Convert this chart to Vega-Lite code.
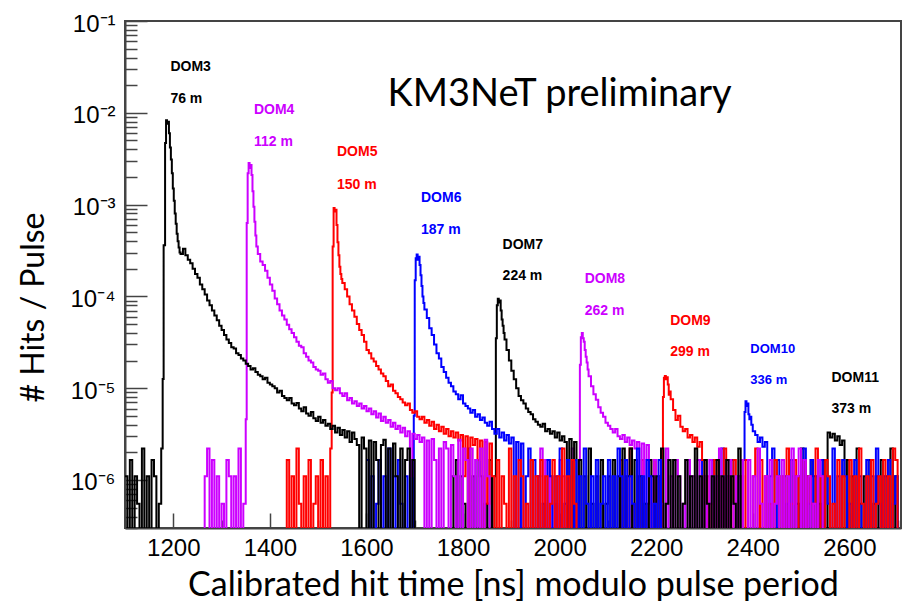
{
"$schema": "https://vega.github.io/schema/vega-lite/v6.json",
"width": 776, "height": 507,
"autosize": {"type": "none"},
"padding": {"left": 125, "top": 21, "right": 9, "bottom": 73},
"background": "white",
"config": {
 "view": {"stroke": "#444", "strokeWidth": 2},
 "axis": {"grid": false, "domainColor": "#444", "domainWidth": 2, "tickColor": "#444", "tickWidth": 1.5,
  "labelFont": "Liberation Sans", "labelFontSize": 24, "labelColor": "black",
  "titleFont": "Lato", "titleFontSize": 32, "titleFontWeight": "normal", "titleColor": "black"}
},
"datasets": {
"hist": [
{"d":11,"t":2465,"v":1.1e-6},{"d":11,"t":2470,"v":1e-8},{"d":11,"t":2475,"v":1.65e-6},{"d":11,"t":2480,"v":1e-8},{"d":11,"t":2485,"v":1.1e-6},{"d":11,"t":2490,"v":5.5e-7},{"d":11,"t":2495,"v":1e-8},{"d":11,"t":2500,"v":2.2e-6},{"d":11,"t":2505,"v":1e-8},{"d":11,"t":2510,"v":1.1e-6},{"d":11,"t":2515,"v":1e-8},{"d":11,"t":2520,"v":1.65e-6},{"d":11,"t":2525,"v":1.1e-6},{"d":11,"t":2530,"v":1e-8},{"d":11,"t":2535,"v":5.5e-7},{"d":11,"t":2540,"v":1e-8},{"d":11,"t":2545,"v":1.65e-6},{"d":11,"t":2550,"v":1e-8},
{"d":11,"t":2555,"v":3.3e-6},{"d":11,"t":2560,"v":2.9e-6},{"d":11,"t":2565,"v":3.2e-6},{"d":11,"t":2570,"v":2.7e-6},{"d":11,"t":2575,"v":3.0e-6},{"d":11,"t":2580,"v":2.4e-6},{"d":11,"t":2585,"v":2.7e-6},
{"d":11,"t":2590,"v":1e-8},{"d":11,"t":2595,"v":1.65e-6},{"d":11,"t":2600,"v":1e-8},{"d":11,"t":2605,"v":1.1e-6},{"d":11,"t":2610,"v":1e-8},{"d":11,"t":2615,"v":2.2e-6},{"d":11,"t":2620,"v":5.5e-7},{"d":11,"t":2625,"v":1e-8},{"d":11,"t":2630,"v":1.1e-6},{"d":11,"t":2635,"v":1e-8},{"d":11,"t":2640,"v":1.65e-6},{"d":11,"t":2645,"v":1e-8},{"d":11,"t":2650,"v":5.5e-7},{"d":11,"t":2655,"v":1.1e-6},{"d":11,"t":2660,"v":1e-8},{"d":11,"t":2665,"v":1.65e-6},{"d":11,"t":2670,"v":1e-8},{"d":11,"t":2675,"v":1.1e-6},{"d":11,"t":2680,"v":1e-8},{"d":11,"t":2685,"v":2.2e-6},{"d":11,"t":2690,"v":1e-8},{"d":11,"t":2695,"v":1.1e-6},{"d":11,"t":2700,"v":1e-8},{"d":11,"t":2710,"v":1e-8},

{"d":10,"t":2290,"v":1.65e-6},{"d":10,"t":2295,"v":1e-8},{"d":10,"t":2300,"v":1.1e-6},{"d":10,"t":2305,"v":1e-8},{"d":10,"t":2310,"v":5.5e-7},{"d":10,"t":2315,"v":1.65e-6},{"d":10,"t":2320,"v":1e-8},{"d":10,"t":2325,"v":1.1e-6},{"d":10,"t":2330,"v":1e-8},{"d":10,"t":2335,"v":2.2e-6},{"d":10,"t":2340,"v":1e-8},{"d":10,"t":2345,"v":1.1e-6},{"d":10,"t":2350,"v":1e-8},{"d":10,"t":2355,"v":1.65e-6},{"d":10,"t":2360,"v":5.5e-7},{"d":10,"t":2365,"v":1e-8},{"d":10,"t":2370,"v":1.1e-6},{"d":10,"t":2375,"v":1e-8},{"d":10,"t":2380,"v":1.65e-6},
{"d":10,"t":2383,"v":5.5e-6},{"d":10,"t":2385,"v":7.2e-6},{"d":10,"t":2387,"v":6.4e-6},{"d":10,"t":2389,"v":6.8e-6},{"d":10,"t":2391,"v":5.2e-6},{"d":10,"t":2393,"v":4.6e-6},{"d":10,"t":2395,"v":4.9e-6},{"d":10,"t":2397,"v":4.0e-6},{"d":10,"t":2400,"v":3.4e-6},{"d":10,"t":2405,"v":3.1e-6},{"d":10,"t":2410,"v":2.6e-6},{"d":10,"t":2415,"v":2.9e-6},{"d":10,"t":2420,"v":2.3e-6},{"d":10,"t":2425,"v":2.6e-6},
{"d":10,"t":2430,"v":1e-8},{"d":10,"t":2435,"v":1.1e-6},{"d":10,"t":2440,"v":2.2e-6},{"d":10,"t":2445,"v":1e-8},{"d":10,"t":2450,"v":1.65e-6},{"d":10,"t":2455,"v":1e-8},{"d":10,"t":2460,"v":1.1e-6},{"d":10,"t":2465,"v":1e-8},{"d":10,"t":2470,"v":5.5e-7},{"d":10,"t":2475,"v":1e-8},{"d":10,"t":2480,"v":1.65e-6},{"d":10,"t":2485,"v":1.1e-6},{"d":10,"t":2490,"v":1e-8},{"d":10,"t":2495,"v":1.1e-6},{"d":10,"t":2500,"v":1e-8},{"d":10,"t":2505,"v":2.2e-6},{"d":10,"t":2510,"v":1e-8},{"d":10,"t":2515,"v":5.5e-7},{"d":10,"t":2520,"v":1.65e-6},{"d":10,"t":2525,"v":1e-8},
{"d":10,"t":2530,"v":1.1e-6},{"d":10,"t":2535,"v":1e-8},{"d":10,"t":2540,"v":1.65e-6},{"d":10,"t":2545,"v":1e-8},{"d":10,"t":2550,"v":1.1e-6},{"d":10,"t":2555,"v":5.5e-7},{"d":10,"t":2560,"v":1e-8},{"d":10,"t":2565,"v":2.2e-6},{"d":10,"t":2570,"v":1e-8},{"d":10,"t":2575,"v":1.1e-6},{"d":10,"t":2580,"v":1e-8},{"d":10,"t":2585,"v":1.65e-6},{"d":10,"t":2590,"v":1.1e-6},{"d":10,"t":2595,"v":1e-8},{"d":10,"t":2600,"v":5.5e-7},{"d":10,"t":2605,"v":1e-8},{"d":10,"t":2610,"v":1.65e-6},{"d":10,"t":2615,"v":1e-8},{"d":10,"t":2620,"v":1.1e-6},{"d":10,"t":2625,"v":1e-8},
{"d":10,"t":2630,"v":1e-8},{"d":10,"t":2635,"v":1.65e-6},{"d":10,"t":2640,"v":1e-8},{"d":10,"t":2645,"v":1.1e-6},{"d":10,"t":2650,"v":1e-8},{"d":10,"t":2655,"v":2.2e-6},{"d":10,"t":2660,"v":5.5e-7},{"d":10,"t":2665,"v":1e-8},{"d":10,"t":2670,"v":1.1e-6},{"d":10,"t":2675,"v":1e-8},{"d":10,"t":2680,"v":1.65e-6},{"d":10,"t":2685,"v":1e-8},{"d":10,"t":2690,"v":5.5e-7},{"d":10,"t":2695,"v":1.1e-6},{"d":10,"t":2700,"v":1e-8},{"d":10,"t":2710,"v":1e-8},

{"d":9,"t":2120,"v":1e-8},{"d":9,"t":2125,"v":1.65e-6},{"d":9,"t":2130,"v":1e-8},{"d":9,"t":2135,"v":1.1e-6},{"d":9,"t":2140,"v":1e-8},{"d":9,"t":2145,"v":2.2e-6},{"d":9,"t":2150,"v":5.5e-7},{"d":9,"t":2155,"v":1e-8},{"d":9,"t":2160,"v":1.1e-6},{"d":9,"t":2165,"v":1e-8},{"d":9,"t":2170,"v":1.65e-6},{"d":9,"t":2175,"v":1e-8},{"d":9,"t":2180,"v":5.5e-7},{"d":9,"t":2185,"v":1.1e-6},{"d":9,"t":2190,"v":1e-8},{"d":9,"t":2195,"v":1.65e-6},{"d":9,"t":2200,"v":1e-8},{"d":9,"t":2205,"v":1.1e-6},{"d":9,"t":2210,"v":1e-8},
{"d":9,"t":2214,"v":8e-6},{"d":9,"t":2216,"v":1.3e-5},{"d":9,"t":2218,"v":1.36e-5},{"d":9,"t":2220,"v":1.25e-5},{"d":9,"t":2222,"v":1.32e-5},{"d":9,"t":2224,"v":1.1e-5},{"d":9,"t":2226,"v":8.5e-6},{"d":9,"t":2228,"v":9.2e-6},{"d":9,"t":2230,"v":7.6e-6},{"d":9,"t":2235,"v":5.8e-6},{"d":9,"t":2240,"v":4.5e-6},{"d":9,"t":2245,"v":5.0e-6},{"d":9,"t":2250,"v":3.8e-6},{"d":9,"t":2255,"v":3.4e-6},{"d":9,"t":2260,"v":3.6e-6},{"d":9,"t":2265,"v":2.9e-6},{"d":9,"t":2270,"v":3.1e-6},{"d":9,"t":2275,"v":2.6e-6},{"d":9,"t":2280,"v":2.9e-6},{"d":9,"t":2285,"v":2.3e-6},{"d":9,"t":2290,"v":2.6e-6},
{"d":9,"t":2295,"v":1.65e-6},{"d":9,"t":2300,"v":1e-8},{"d":9,"t":2305,"v":1.1e-6},{"d":9,"t":2310,"v":1e-8},{"d":9,"t":2315,"v":5.5e-7},{"d":9,"t":2320,"v":1.65e-6},{"d":9,"t":2325,"v":1e-8},{"d":9,"t":2330,"v":1.1e-6},{"d":9,"t":2335,"v":1e-8},{"d":9,"t":2340,"v":2.2e-6},{"d":9,"t":2345,"v":1e-8},{"d":9,"t":2350,"v":1.1e-6},{"d":9,"t":2355,"v":1e-8},{"d":9,"t":2360,"v":1.65e-6},{"d":9,"t":2365,"v":5.5e-7},{"d":9,"t":2370,"v":1e-8},{"d":9,"t":2375,"v":1.1e-6},{"d":9,"t":2380,"v":1e-8},{"d":9,"t":2385,"v":1.65e-6},{"d":9,"t":2390,"v":1e-8},
{"d":9,"t":2395,"v":1e-8},{"d":9,"t":2400,"v":1.1e-6},{"d":9,"t":2405,"v":2.2e-6},{"d":9,"t":2410,"v":1e-8},{"d":9,"t":2415,"v":1.65e-6},{"d":9,"t":2420,"v":1e-8},{"d":9,"t":2425,"v":1.1e-6},{"d":9,"t":2430,"v":1e-8},{"d":9,"t":2435,"v":5.5e-7},{"d":9,"t":2440,"v":1e-8},{"d":9,"t":2445,"v":1.65e-6},{"d":9,"t":2450,"v":1.1e-6},{"d":9,"t":2455,"v":1e-8},{"d":9,"t":2460,"v":1.1e-6},{"d":9,"t":2465,"v":1e-8},{"d":9,"t":2470,"v":2.2e-6},{"d":9,"t":2475,"v":1e-8},{"d":9,"t":2480,"v":5.5e-7},{"d":9,"t":2485,"v":1.65e-6},{"d":9,"t":2490,"v":1e-8},
{"d":9,"t":2495,"v":1.1e-6},{"d":9,"t":2500,"v":1e-8},{"d":9,"t":2505,"v":1.65e-6},{"d":9,"t":2510,"v":1e-8},{"d":9,"t":2515,"v":1.1e-6},{"d":9,"t":2520,"v":5.5e-7},{"d":9,"t":2525,"v":1e-8},{"d":9,"t":2530,"v":2.2e-6},{"d":9,"t":2535,"v":1e-8},{"d":9,"t":2540,"v":1.1e-6},{"d":9,"t":2545,"v":1e-8},{"d":9,"t":2550,"v":1.65e-6},{"d":9,"t":2555,"v":1.1e-6},{"d":9,"t":2560,"v":1e-8},{"d":9,"t":2565,"v":5.5e-7},{"d":9,"t":2570,"v":1e-8},{"d":9,"t":2575,"v":1.65e-6},{"d":9,"t":2580,"v":1e-8},{"d":9,"t":2585,"v":1.1e-6},{"d":9,"t":2590,"v":1e-8},
{"d":9,"t":2595,"v":1e-8},{"d":9,"t":2600,"v":1.65e-6},{"d":9,"t":2605,"v":1e-8},{"d":9,"t":2610,"v":1.1e-6},{"d":9,"t":2615,"v":1e-8},{"d":9,"t":2620,"v":2.2e-6},{"d":9,"t":2625,"v":5.5e-7},{"d":9,"t":2630,"v":1e-8},{"d":9,"t":2635,"v":1.1e-6},{"d":9,"t":2640,"v":1e-8},{"d":9,"t":2645,"v":1.65e-6},{"d":9,"t":2650,"v":1e-8},{"d":9,"t":2655,"v":5.5e-7},{"d":9,"t":2660,"v":1.1e-6},{"d":9,"t":2665,"v":1e-8},{"d":9,"t":2670,"v":1.65e-6},{"d":9,"t":2675,"v":1e-8},{"d":9,"t":2680,"v":1.1e-6},{"d":9,"t":2685,"v":1e-8},{"d":9,"t":2690,"v":2.2e-6},
{"d":9,"t":2695,"v":1.65e-6},{"d":9,"t":2700,"v":1e-8},{"d":9,"t":2710,"v":1e-8},

{"d":8,"t":1950,"v":1e-8},{"d":8,"t":1955,"v":1.1e-6},{"d":8,"t":1960,"v":2.2e-6},{"d":8,"t":1965,"v":1e-8},{"d":8,"t":1970,"v":1.65e-6},{"d":8,"t":1975,"v":1e-8},{"d":8,"t":1980,"v":1.1e-6},{"d":8,"t":1985,"v":1e-8},{"d":8,"t":1990,"v":5.5e-7},{"d":8,"t":1995,"v":1e-8},{"d":8,"t":2000,"v":1.65e-6},{"d":8,"t":2005,"v":1.1e-6},{"d":8,"t":2010,"v":1e-8},{"d":8,"t":2015,"v":1.1e-6},{"d":8,"t":2020,"v":1e-8},{"d":8,"t":2025,"v":2.2e-6},{"d":8,"t":2030,"v":1e-8},{"d":8,"t":2035,"v":5.5e-7},{"d":8,"t":2040,"v":1.65e-6},
{"d":8,"t":2042,"v":1.8e-5},{"d":8,"t":2044,"v":3.6e-5},{"d":8,"t":2046,"v":4.0e-5},{"d":8,"t":2048,"v":3.5e-5},{"d":8,"t":2050,"v":3.2e-5},{"d":8,"t":2052,"v":2.6e-5},{"d":8,"t":2054,"v":2.2e-5},{"d":8,"t":2056,"v":1.9e-5},{"d":8,"t":2058,"v":1.6e-5},{"d":8,"t":2060,"v":1.35e-5},{"d":8,"t":2065,"v":1.05e-5},{"d":8,"t":2070,"v":8.6e-6},{"d":8,"t":2075,"v":7.5e-6},{"d":8,"t":2080,"v":6.2e-6},{"d":8,"t":2085,"v":5.4e-6},{"d":8,"t":2090,"v":4.9e-6},{"d":8,"t":2095,"v":4.2e-6},{"d":8,"t":2100,"v":3.9e-6},{"d":8,"t":2105,"v":3.6e-6},{"d":8,"t":2110,"v":3.3e-6},{"d":8,"t":2115,"v":3.6e-6},{"d":8,"t":2120,"v":3.0e-6},{"d":8,"t":2125,"v":2.8e-6},{"d":8,"t":2130,"v":3.1e-6},{"d":8,"t":2135,"v":2.6e-6},{"d":8,"t":2140,"v":2.9e-6},{"d":8,"t":2145,"v":2.4e-6},{"d":8,"t":2150,"v":2.7e-6},{"d":8,"t":2155,"v":2.2e-6},{"d":8,"t":2160,"v":2.6e-6},{"d":8,"t":2165,"v":1e-8},{"d":8,"t":2170,"v":2.5e-6},{"d":8,"t":2175,"v":1e-8},{"d":8,"t":2180,"v":2.4e-6},
{"d":8,"t":2185,"v":1.1e-6},{"d":8,"t":2190,"v":1e-8},{"d":8,"t":2195,"v":1.65e-6},{"d":8,"t":2200,"v":1e-8},{"d":8,"t":2205,"v":1.1e-6},{"d":8,"t":2210,"v":5.5e-7},{"d":8,"t":2215,"v":1e-8},{"d":8,"t":2220,"v":2.2e-6},{"d":8,"t":2225,"v":1e-8},{"d":8,"t":2230,"v":1.1e-6},{"d":8,"t":2235,"v":1e-8},{"d":8,"t":2240,"v":1.65e-6},{"d":8,"t":2245,"v":1.1e-6},{"d":8,"t":2250,"v":1e-8},{"d":8,"t":2255,"v":5.5e-7},{"d":8,"t":2260,"v":1e-8},{"d":8,"t":2265,"v":1.65e-6},{"d":8,"t":2270,"v":1e-8},{"d":8,"t":2275,"v":1.1e-6},{"d":8,"t":2280,"v":1e-8},
{"d":8,"t":2285,"v":1.65e-6},{"d":8,"t":2290,"v":1e-8},{"d":8,"t":2295,"v":1.1e-6},{"d":8,"t":2300,"v":1e-8},{"d":8,"t":2305,"v":5.5e-7},{"d":8,"t":2310,"v":1.65e-6},{"d":8,"t":2315,"v":1e-8},{"d":8,"t":2320,"v":1.1e-6},{"d":8,"t":2325,"v":1e-8},{"d":8,"t":2330,"v":2.2e-6},{"d":8,"t":2335,"v":1e-8},{"d":8,"t":2340,"v":1.1e-6},{"d":8,"t":2345,"v":1e-8},{"d":8,"t":2350,"v":1.65e-6},{"d":8,"t":2355,"v":5.5e-7},{"d":8,"t":2360,"v":1e-8},{"d":8,"t":2365,"v":1.1e-6},{"d":8,"t":2370,"v":1e-8},{"d":8,"t":2375,"v":1.65e-6},{"d":8,"t":2380,"v":1e-8},
{"d":8,"t":2385,"v":1e-8},{"d":8,"t":2390,"v":1.65e-6},{"d":8,"t":2395,"v":1e-8},{"d":8,"t":2400,"v":1.1e-6},{"d":8,"t":2405,"v":1e-8},{"d":8,"t":2410,"v":2.2e-6},{"d":8,"t":2415,"v":5.5e-7},{"d":8,"t":2420,"v":1e-8},{"d":8,"t":2425,"v":1.1e-6},{"d":8,"t":2430,"v":1e-8},{"d":8,"t":2435,"v":1.65e-6},{"d":8,"t":2440,"v":1e-8},{"d":8,"t":2445,"v":5.5e-7},{"d":8,"t":2450,"v":1.1e-6},{"d":8,"t":2455,"v":1e-8},{"d":8,"t":2460,"v":1.65e-6},{"d":8,"t":2465,"v":1e-8},{"d":8,"t":2470,"v":1.1e-6},{"d":8,"t":2475,"v":1e-8},{"d":8,"t":2480,"v":2.2e-6},
{"d":8,"t":2485,"v":1e-8},{"d":8,"t":2490,"v":1.1e-6},{"d":8,"t":2495,"v":2.2e-6},{"d":8,"t":2500,"v":1e-8},{"d":8,"t":2505,"v":1.65e-6},{"d":8,"t":2510,"v":1e-8},{"d":8,"t":2515,"v":1.1e-6},{"d":8,"t":2520,"v":1e-8},{"d":8,"t":2525,"v":5.5e-7},{"d":8,"t":2530,"v":1e-8},{"d":8,"t":2535,"v":1.65e-6},{"d":8,"t":2540,"v":1.1e-6},{"d":8,"t":2545,"v":1e-8},{"d":8,"t":2550,"v":1e-8},

{"d":7,"t":1775,"v":1.1e-6},{"d":7,"t":1780,"v":1e-8},{"d":7,"t":1785,"v":1.65e-6},{"d":7,"t":1790,"v":1e-8},{"d":7,"t":1795,"v":1.1e-6},{"d":7,"t":1800,"v":5.5e-7},{"d":7,"t":1805,"v":1e-8},{"d":7,"t":1810,"v":2.2e-6},{"d":7,"t":1815,"v":1e-8},{"d":7,"t":1820,"v":1.1e-6},{"d":7,"t":1825,"v":1e-8},{"d":7,"t":1830,"v":1.65e-6},{"d":7,"t":1835,"v":1.1e-6},{"d":7,"t":1840,"v":1e-8},{"d":7,"t":1845,"v":5.5e-7},{"d":7,"t":1850,"v":1e-8},{"d":7,"t":1855,"v":1.65e-6},{"d":7,"t":1860,"v":1e-8},{"d":7,"t":1865,"v":1.1e-6},
{"d":7,"t":1868,"v":3.5e-5},{"d":7,"t":1870,"v":8.0e-5},{"d":7,"t":1872,"v":9.4e-5},{"d":7,"t":1874,"v":8.6e-5},{"d":7,"t":1876,"v":9.0e-5},{"d":7,"t":1878,"v":7.0e-5},{"d":7,"t":1880,"v":5.6e-5},{"d":7,"t":1882,"v":4.8e-5},{"d":7,"t":1884,"v":4.0e-5},{"d":7,"t":1886,"v":3.4e-5},{"d":7,"t":1890,"v":2.6e-5},{"d":7,"t":1895,"v":2.0e-5},{"d":7,"t":1900,"v":1.55e-5},{"d":7,"t":1905,"v":1.25e-5},{"d":7,"t":1910,"v":1.0e-5},{"d":7,"t":1915,"v":8.2e-6},{"d":7,"t":1920,"v":7.4e-6},{"d":7,"t":1925,"v":6.8e-6},{"d":7,"t":1930,"v":6.0e-6},{"d":7,"t":1935,"v":5.5e-6},{"d":7,"t":1940,"v":5.2e-6},{"d":7,"t":1945,"v":4.6e-6},{"d":7,"t":1950,"v":4.3e-6},{"d":7,"t":1955,"v":4.0e-6},{"d":7,"t":1960,"v":3.8e-6},{"d":7,"t":1965,"v":4.1e-6},{"d":7,"t":1970,"v":3.4e-6},{"d":7,"t":1975,"v":3.6e-6},{"d":7,"t":1980,"v":3.2e-6},{"d":7,"t":1985,"v":3.4e-6},{"d":7,"t":1990,"v":2.9e-6},{"d":7,"t":1995,"v":3.3e-6},{"d":7,"t":2000,"v":2.7e-6},{"d":7,"t":2005,"v":3.0e-6},{"d":7,"t":2010,"v":2.6e-6},{"d":7,"t":2015,"v":1e-8},{"d":7,"t":2020,"v":2.8e-6},{"d":7,"t":2025,"v":1e-8},{"d":7,"t":2030,"v":2.6e-6},
{"d":7,"t":2035,"v":1e-8},{"d":7,"t":2040,"v":1.65e-6},{"d":7,"t":2045,"v":1e-8},{"d":7,"t":2050,"v":1.1e-6},{"d":7,"t":2055,"v":1e-8},{"d":7,"t":2060,"v":2.2e-6},{"d":7,"t":2065,"v":5.5e-7},{"d":7,"t":2070,"v":1e-8},{"d":7,"t":2075,"v":1.1e-6},{"d":7,"t":2080,"v":1e-8},{"d":7,"t":2085,"v":1.65e-6},{"d":7,"t":2090,"v":1e-8},{"d":7,"t":2095,"v":5.5e-7},{"d":7,"t":2100,"v":1.1e-6},{"d":7,"t":2105,"v":1e-8},{"d":7,"t":2110,"v":1.65e-6},{"d":7,"t":2115,"v":1e-8},{"d":7,"t":2120,"v":1.1e-6},{"d":7,"t":2125,"v":1e-8},{"d":7,"t":2130,"v":2.2e-6},
{"d":7,"t":2135,"v":1e-8},{"d":7,"t":2140,"v":1.1e-6},{"d":7,"t":2145,"v":2.2e-6},{"d":7,"t":2150,"v":1e-8},{"d":7,"t":2155,"v":1.65e-6},{"d":7,"t":2160,"v":1e-8},{"d":7,"t":2165,"v":1.1e-6},{"d":7,"t":2170,"v":1e-8},{"d":7,"t":2175,"v":5.5e-7},{"d":7,"t":2180,"v":1e-8},{"d":7,"t":2185,"v":1.65e-6},{"d":7,"t":2190,"v":1.1e-6},{"d":7,"t":2195,"v":1e-8},{"d":7,"t":2200,"v":1.1e-6},{"d":7,"t":2205,"v":1e-8},{"d":7,"t":2210,"v":2.2e-6},{"d":7,"t":2215,"v":1e-8},{"d":7,"t":2220,"v":5.5e-7},{"d":7,"t":2225,"v":1.65e-6},{"d":7,"t":2230,"v":1e-8},
{"d":7,"t":2235,"v":1.65e-6},{"d":7,"t":2240,"v":1e-8},{"d":7,"t":2245,"v":1.1e-6},{"d":7,"t":2250,"v":1e-8},{"d":7,"t":2255,"v":5.5e-7},{"d":7,"t":2260,"v":1.65e-6},{"d":7,"t":2265,"v":1e-8},{"d":7,"t":2270,"v":1.1e-6},{"d":7,"t":2275,"v":1e-8},{"d":7,"t":2280,"v":2.2e-6},{"d":7,"t":2285,"v":1e-8},{"d":7,"t":2290,"v":1.1e-6},{"d":7,"t":2295,"v":1e-8},{"d":7,"t":2300,"v":1.65e-6},{"d":7,"t":2305,"v":5.5e-7},{"d":7,"t":2310,"v":1e-8},{"d":7,"t":2315,"v":1.1e-6},{"d":7,"t":2320,"v":1e-8},{"d":7,"t":2325,"v":1.65e-6},{"d":7,"t":2330,"v":1e-8},
{"d":7,"t":2335,"v":1.1e-6},{"d":7,"t":2340,"v":1e-8},{"d":7,"t":2345,"v":1.65e-6},{"d":7,"t":2350,"v":1e-8},{"d":7,"t":2355,"v":1.1e-6},{"d":7,"t":2360,"v":5.5e-7},{"d":7,"t":2365,"v":1e-8},{"d":7,"t":2370,"v":2.2e-6},{"d":7,"t":2375,"v":1e-8},{"d":7,"t":2380,"v":1e-8},

{"d":6,"t":1600,"v":1.65e-6},{"d":6,"t":1605,"v":1e-8},{"d":6,"t":1610,"v":1.1e-6},{"d":6,"t":1615,"v":1e-8},{"d":6,"t":1620,"v":5.5e-7},{"d":6,"t":1625,"v":1.65e-6},{"d":6,"t":1630,"v":1e-8},{"d":6,"t":1635,"v":1.1e-6},{"d":6,"t":1640,"v":1e-8},{"d":6,"t":1645,"v":2.2e-6},{"d":6,"t":1650,"v":1e-8},{"d":6,"t":1655,"v":1.1e-6},{"d":6,"t":1660,"v":1e-8},{"d":6,"t":1665,"v":1.65e-6},{"d":6,"t":1670,"v":5.5e-7},{"d":6,"t":1675,"v":1e-8},{"d":6,"t":1680,"v":1.1e-6},{"d":6,"t":1685,"v":1e-8},{"d":6,"t":1690,"v":1.65e-6},{"d":6,"t":1695,"v":1e-8},
{"d":6,"t":1698,"v":5e-6},{"d":6,"t":1700,"v":1.5e-4},{"d":6,"t":1702,"v":2.6e-4},{"d":6,"t":1704,"v":2.86e-4},{"d":6,"t":1706,"v":2.5e-4},{"d":6,"t":1708,"v":2.7e-4},{"d":6,"t":1710,"v":2.2e-4},{"d":6,"t":1712,"v":1.7e-4},{"d":6,"t":1714,"v":1.3e-4},{"d":6,"t":1716,"v":1.0e-4},{"d":6,"t":1718,"v":8.5e-5},{"d":6,"t":1720,"v":7.2e-5},{"d":6,"t":1725,"v":5.8e-5},{"d":6,"t":1730,"v":4.5e-5},{"d":6,"t":1735,"v":3.8e-5},{"d":6,"t":1740,"v":3.0e-5},{"d":6,"t":1745,"v":2.4e-5},{"d":6,"t":1750,"v":2.1e-5},{"d":6,"t":1755,"v":1.7e-5},{"d":6,"t":1760,"v":1.5e-5},{"d":6,"t":1765,"v":1.3e-5},{"d":6,"t":1770,"v":1.15e-5},{"d":6,"t":1775,"v":1.05e-5},{"d":6,"t":1780,"v":9.2e-6},{"d":6,"t":1785,"v":8.6e-6},{"d":6,"t":1790,"v":7.6e-6},{"d":6,"t":1795,"v":8.4e-6},{"d":6,"t":1800,"v":6.8e-6},{"d":6,"t":1805,"v":6.4e-6},{"d":6,"t":1810,"v":6.0e-6},{"d":6,"t":1815,"v":5.4e-6},{"d":6,"t":1820,"v":5.8e-6},{"d":6,"t":1825,"v":4.9e-6},{"d":6,"t":1830,"v":5.2e-6},{"d":6,"t":1835,"v":4.5e-6},{"d":6,"t":1840,"v":4.8e-6},{"d":6,"t":1845,"v":4.2e-6},{"d":6,"t":1850,"v":3.9e-6},{"d":6,"t":1855,"v":4.3e-6},{"d":6,"t":1860,"v":3.6e-6},{"d":6,"t":1865,"v":3.2e-6},{"d":6,"t":1870,"v":3.6e-6},{"d":6,"t":1875,"v":2.9e-6},{"d":6,"t":1880,"v":3.3e-6},{"d":6,"t":1885,"v":2.7e-6},{"d":6,"t":1890,"v":3.1e-6},{"d":6,"t":1895,"v":2.5e-6},{"d":6,"t":1900,"v":2.9e-6},{"d":6,"t":1905,"v":1e-8},{"d":6,"t":1910,"v":2.6e-6},{"d":6,"t":1915,"v":1e-8},{"d":6,"t":1920,"v":2.5e-6},
{"d":6,"t":1925,"v":1e-8},{"d":6,"t":1930,"v":1.1e-6},{"d":6,"t":1935,"v":2.2e-6},{"d":6,"t":1940,"v":1e-8},{"d":6,"t":1945,"v":1.65e-6},{"d":6,"t":1950,"v":1e-8},{"d":6,"t":1955,"v":1.1e-6},{"d":6,"t":1960,"v":1e-8},{"d":6,"t":1965,"v":5.5e-7},{"d":6,"t":1970,"v":1e-8},{"d":6,"t":1975,"v":1.65e-6},{"d":6,"t":1980,"v":1.1e-6},{"d":6,"t":1985,"v":1e-8},{"d":6,"t":1990,"v":1.1e-6},{"d":6,"t":1995,"v":1e-8},{"d":6,"t":2000,"v":2.2e-6},{"d":6,"t":2005,"v":1e-8},{"d":6,"t":2010,"v":5.5e-7},{"d":6,"t":2015,"v":1.65e-6},{"d":6,"t":2020,"v":1e-8},
{"d":6,"t":2025,"v":1e-8},{"d":6,"t":2030,"v":1.65e-6},{"d":6,"t":2035,"v":1e-8},{"d":6,"t":2040,"v":1.1e-6},{"d":6,"t":2045,"v":1e-8},{"d":6,"t":2050,"v":2.2e-6},{"d":6,"t":2055,"v":5.5e-7},{"d":6,"t":2060,"v":1e-8},{"d":6,"t":2065,"v":1.1e-6},{"d":6,"t":2070,"v":1e-8},{"d":6,"t":2075,"v":1.65e-6},{"d":6,"t":2080,"v":1e-8},{"d":6,"t":2085,"v":5.5e-7},{"d":6,"t":2090,"v":1.1e-6},{"d":6,"t":2095,"v":1e-8},{"d":6,"t":2100,"v":1.65e-6},{"d":6,"t":2105,"v":1e-8},{"d":6,"t":2110,"v":1.1e-6},{"d":6,"t":2115,"v":1e-8},{"d":6,"t":2120,"v":2.2e-6},
{"d":6,"t":2125,"v":1.1e-6},{"d":6,"t":2130,"v":1e-8},{"d":6,"t":2135,"v":1.65e-6},{"d":6,"t":2140,"v":1e-8},{"d":6,"t":2145,"v":1.1e-6},{"d":6,"t":2150,"v":5.5e-7},{"d":6,"t":2155,"v":1e-8},{"d":6,"t":2160,"v":2.2e-6},{"d":6,"t":2165,"v":1e-8},{"d":6,"t":2170,"v":1.1e-6},{"d":6,"t":2175,"v":1e-8},{"d":6,"t":2180,"v":1.65e-6},{"d":6,"t":2185,"v":1.1e-6},{"d":6,"t":2190,"v":1e-8},{"d":6,"t":2195,"v":5.5e-7},{"d":6,"t":2200,"v":1e-8},{"d":6,"t":2205,"v":1.65e-6},{"d":6,"t":2210,"v":1e-8},

{"d":5,"t":1430,"v":1e-8},{"d":5,"t":1435,"v":1.65e-6},{"d":5,"t":1440,"v":1e-8},{"d":5,"t":1445,"v":1.1e-6},{"d":5,"t":1450,"v":1e-8},{"d":5,"t":1455,"v":2.2e-6},{"d":5,"t":1460,"v":5.5e-7},{"d":5,"t":1465,"v":1e-8},{"d":5,"t":1470,"v":1.1e-6},{"d":5,"t":1475,"v":1e-8},{"d":5,"t":1480,"v":1.65e-6},{"d":5,"t":1485,"v":1e-8},{"d":5,"t":1490,"v":5.5e-7},{"d":5,"t":1495,"v":1.1e-6},{"d":5,"t":1500,"v":1e-8},{"d":5,"t":1505,"v":1.65e-6},{"d":5,"t":1510,"v":1e-8},{"d":5,"t":1515,"v":1.1e-6},{"d":5,"t":1520,"v":1e-8},{"d":5,"t":1525,"v":2.2e-6},
{"d":5,"t":1528,"v":9e-6},{"d":5,"t":1530,"v":3.5e-4},{"d":5,"t":1532,"v":9.2e-4},{"d":5,"t":1534,"v":8.4e-4},{"d":5,"t":1536,"v":8.8e-4},{"d":5,"t":1538,"v":6.0e-4},{"d":5,"t":1540,"v":3.9e-4},{"d":5,"t":1542,"v":2.8e-4},{"d":5,"t":1544,"v":2.1e-4},{"d":5,"t":1546,"v":1.75e-4},{"d":5,"t":1548,"v":1.55e-4},{"d":5,"t":1550,"v":1.4e-4},{"d":5,"t":1555,"v":1.2e-4},{"d":5,"t":1560,"v":1.0e-4},{"d":5,"t":1565,"v":8.2e-5},{"d":5,"t":1570,"v":7.0e-5},{"d":5,"t":1575,"v":6.0e-5},{"d":5,"t":1580,"v":5.0e-5},{"d":5,"t":1585,"v":4.3e-5},{"d":5,"t":1590,"v":3.8e-5},{"d":5,"t":1595,"v":3.2e-5},{"d":5,"t":1600,"v":2.6e-5},{"d":5,"t":1605,"v":2.4e-5},{"d":5,"t":1610,"v":2.1e-5},{"d":5,"t":1615,"v":1.95e-5},{"d":5,"t":1620,"v":1.75e-5},{"d":5,"t":1625,"v":1.6e-5},{"d":5,"t":1630,"v":1.45e-5},{"d":5,"t":1635,"v":1.35e-5},{"d":5,"t":1640,"v":1.2e-5},{"d":5,"t":1645,"v":1.05e-5},{"d":5,"t":1650,"v":1.1e-5},{"d":5,"t":1655,"v":9.4e-6},{"d":5,"t":1660,"v":8.8e-6},{"d":5,"t":1665,"v":8.0e-6},{"d":5,"t":1670,"v":7.6e-6},{"d":5,"t":1675,"v":7.0e-6},{"d":5,"t":1680,"v":6.5e-6},{"d":5,"t":1685,"v":6.8e-6},{"d":5,"t":1690,"v":5.8e-6},{"d":5,"t":1695,"v":5.4e-6},{"d":5,"t":1700,"v":5.6e-6},{"d":5,"t":1705,"v":4.9e-6},{"d":5,"t":1710,"v":4.6e-6},{"d":5,"t":1715,"v":4.9e-6},{"d":5,"t":1720,"v":4.2e-6},{"d":5,"t":1725,"v":4.5e-6},{"d":5,"t":1730,"v":3.9e-6},{"d":5,"t":1735,"v":4.3e-6},{"d":5,"t":1740,"v":3.6e-6},{"d":5,"t":1745,"v":4.0e-6},{"d":5,"t":1750,"v":3.4e-6},{"d":5,"t":1755,"v":3.8e-6},{"d":5,"t":1760,"v":3.2e-6},{"d":5,"t":1765,"v":3.6e-6},{"d":5,"t":1770,"v":3.0e-6},{"d":5,"t":1775,"v":3.4e-6},{"d":5,"t":1780,"v":2.9e-6},{"d":5,"t":1785,"v":3.3e-6},{"d":5,"t":1790,"v":2.7e-6},{"d":5,"t":1795,"v":3.1e-6},{"d":5,"t":1800,"v":1.1e-6},{"d":5,"t":1805,"v":3.0e-6},{"d":5,"t":1810,"v":1e-8},{"d":5,"t":1815,"v":2.9e-6},{"d":5,"t":1820,"v":2.4e-6},{"d":5,"t":1825,"v":2.8e-6},{"d":5,"t":1830,"v":1.65e-6},{"d":5,"t":1835,"v":2.7e-6},{"d":5,"t":1840,"v":1e-8},{"d":5,"t":1845,"v":2.6e-6},{"d":5,"t":1850,"v":5.5e-7},{"d":5,"t":1855,"v":2.5e-6},
{"d":5,"t":1860,"v":1.1e-6},{"d":5,"t":1865,"v":1e-8},{"d":5,"t":1870,"v":1.65e-6},{"d":5,"t":1875,"v":1e-8},{"d":5,"t":1880,"v":1.1e-6},{"d":5,"t":1885,"v":5.5e-7},{"d":5,"t":1890,"v":1e-8},{"d":5,"t":1895,"v":2.2e-6},{"d":5,"t":1900,"v":1e-8},{"d":5,"t":1905,"v":1.1e-6},{"d":5,"t":1910,"v":1e-8},{"d":5,"t":1915,"v":1.65e-6},{"d":5,"t":1920,"v":1.1e-6},{"d":5,"t":1925,"v":1e-8},{"d":5,"t":1930,"v":5.5e-7},{"d":5,"t":1935,"v":1e-8},{"d":5,"t":1940,"v":1.65e-6},{"d":5,"t":1945,"v":1e-8},{"d":5,"t":1950,"v":1.1e-6},{"d":5,"t":1955,"v":1e-8},
{"d":5,"t":1960,"v":1.65e-6},{"d":5,"t":1965,"v":1e-8},{"d":5,"t":1970,"v":1.1e-6},{"d":5,"t":1975,"v":1e-8},{"d":5,"t":1980,"v":5.5e-7},{"d":5,"t":1985,"v":1.65e-6},{"d":5,"t":1990,"v":1e-8},{"d":5,"t":1995,"v":1.1e-6},{"d":5,"t":2000,"v":1e-8},{"d":5,"t":2005,"v":2.2e-6},{"d":5,"t":2010,"v":1e-8},{"d":5,"t":2015,"v":1.1e-6},{"d":5,"t":2020,"v":1e-8},{"d":5,"t":2025,"v":1.65e-6},{"d":5,"t":2030,"v":5.5e-7},{"d":5,"t":2035,"v":1e-8},{"d":5,"t":2040,"v":1e-8},

{"d":4,"t":1260,"v":1e-8},{"d":4,"t":1265,"v":1.1e-6},{"d":4,"t":1270,"v":2.2e-6},{"d":4,"t":1275,"v":1e-8},{"d":4,"t":1280,"v":1.65e-6},{"d":4,"t":1285,"v":1e-8},{"d":4,"t":1290,"v":1.1e-6},{"d":4,"t":1295,"v":1e-8},{"d":4,"t":1300,"v":5.5e-7},{"d":4,"t":1305,"v":1e-8},{"d":4,"t":1310,"v":1.65e-6},{"d":4,"t":1315,"v":1.1e-6},{"d":4,"t":1320,"v":1e-8},{"d":4,"t":1325,"v":1.1e-6},{"d":4,"t":1330,"v":1e-8},{"d":4,"t":1335,"v":2.2e-6},{"d":4,"t":1340,"v":1e-8},{"d":4,"t":1345,"v":5.5e-7},
{"d":4,"t":1350,"v":4.6e-6},{"d":4,"t":1352,"v":6.3e-4},{"d":4,"t":1354,"v":2.2e-3},{"d":4,"t":1356,"v":2.84e-3},{"d":4,"t":1358,"v":2.5e-3},{"d":4,"t":1360,"v":2.7e-3},{"d":4,"t":1362,"v":2.1e-3},{"d":4,"t":1364,"v":1.4e-3},{"d":4,"t":1366,"v":9.5e-4},{"d":4,"t":1368,"v":6.5e-4},{"d":4,"t":1370,"v":4.6e-4},{"d":4,"t":1372,"v":3.5e-4},{"d":4,"t":1375,"v":2.9e-4},{"d":4,"t":1380,"v":2.4e-4},{"d":4,"t":1385,"v":2.2e-4},{"d":4,"t":1390,"v":1.9e-4},{"d":4,"t":1395,"v":1.6e-4},{"d":4,"t":1400,"v":1.35e-4},{"d":4,"t":1405,"v":1.15e-4},{"d":4,"t":1410,"v":9.5e-5},{"d":4,"t":1415,"v":8.2e-5},{"d":4,"t":1420,"v":7.0e-5},{"d":4,"t":1425,"v":6.2e-5},{"d":4,"t":1430,"v":5.6e-5},{"d":4,"t":1435,"v":4.9e-5},{"d":4,"t":1440,"v":4.4e-5},{"d":4,"t":1445,"v":4.0e-5},{"d":4,"t":1450,"v":3.6e-5},{"d":4,"t":1455,"v":3.2e-5},{"d":4,"t":1460,"v":2.9e-5},{"d":4,"t":1465,"v":2.8e-5},{"d":4,"t":1470,"v":2.4e-5},{"d":4,"t":1475,"v":2.2e-5},{"d":4,"t":1480,"v":2.0e-5},{"d":4,"t":1485,"v":1.9e-5},{"d":4,"t":1490,"v":1.7e-5},{"d":4,"t":1495,"v":1.6e-5},{"d":4,"t":1500,"v":1.55e-5},{"d":4,"t":1505,"v":1.4e-5},{"d":4,"t":1510,"v":1.45e-5},{"d":4,"t":1515,"v":1.25e-5},{"d":4,"t":1520,"v":1.15e-5},{"d":4,"t":1525,"v":1.2e-5},{"d":4,"t":1530,"v":1.0e-5},{"d":4,"t":1535,"v":9.5e-6},{"d":4,"t":1540,"v":1.0e-5},{"d":4,"t":1545,"v":8.8e-6},{"d":4,"t":1550,"v":8.2e-6},{"d":4,"t":1555,"v":8.8e-6},{"d":4,"t":1560,"v":7.4e-6},{"d":4,"t":1565,"v":7.8e-6},{"d":4,"t":1570,"v":6.8e-6},{"d":4,"t":1575,"v":7.2e-6},{"d":4,"t":1580,"v":6.4e-6},{"d":4,"t":1585,"v":6.8e-6},{"d":4,"t":1590,"v":6.0e-6},{"d":4,"t":1595,"v":6.4e-6},{"d":4,"t":1600,"v":5.6e-6},{"d":4,"t":1605,"v":6.0e-6},{"d":4,"t":1610,"v":5.2e-6},{"d":4,"t":1615,"v":5.6e-6},{"d":4,"t":1620,"v":4.8e-6},{"d":4,"t":1625,"v":5.3e-6},{"d":4,"t":1630,"v":4.4e-6},{"d":4,"t":1635,"v":4.9e-6},{"d":4,"t":1640,"v":4.2e-6},{"d":4,"t":1645,"v":4.5e-6},{"d":4,"t":1650,"v":3.8e-6},{"d":4,"t":1655,"v":4.2e-6},{"d":4,"t":1660,"v":3.6e-6},{"d":4,"t":1665,"v":3.9e-6},{"d":4,"t":1670,"v":3.3e-6},{"d":4,"t":1675,"v":3.7e-6},{"d":4,"t":1680,"v":3.0e-6},{"d":4,"t":1685,"v":3.4e-6},{"d":4,"t":1690,"v":1.1e-6},{"d":4,"t":1695,"v":3.2e-6},{"d":4,"t":1700,"v":2.8e-6},{"d":4,"t":1705,"v":3.1e-6},{"d":4,"t":1710,"v":2.6e-6},{"d":4,"t":1715,"v":2.9e-6},{"d":4,"t":1720,"v":1e-8},{"d":4,"t":1725,"v":2.7e-6},{"d":4,"t":1730,"v":1e-8},{"d":4,"t":1735,"v":2.8e-6},{"d":4,"t":1740,"v":1.65e-6},{"d":4,"t":1745,"v":1e-8},{"d":4,"t":1750,"v":2.2e-6},{"d":4,"t":1755,"v":1e-8},{"d":4,"t":1760,"v":2.6e-6},{"d":4,"t":1765,"v":2.2e-6},{"d":4,"t":1770,"v":1e-8},{"d":4,"t":1775,"v":2.4e-6},{"d":4,"t":1780,"v":1.1e-6},{"d":4,"t":1785,"v":1e-8},{"d":4,"t":1790,"v":2.75e-6},{"d":4,"t":1795,"v":1e-8},{"d":4,"t":1800,"v":2.2e-6},{"d":4,"t":1805,"v":1.65e-6},{"d":4,"t":1810,"v":1e-8},{"d":4,"t":1815,"v":2.2e-6},{"d":4,"t":1820,"v":1e-8},{"d":4,"t":1825,"v":1.65e-6},{"d":4,"t":1830,"v":1e-8},{"d":4,"t":1835,"v":2.2e-6},{"d":4,"t":1840,"v":1e-8},{"d":4,"t":1845,"v":2.75e-6},{"d":4,"t":1850,"v":1.1e-6},{"d":4,"t":1855,"v":1e-8},{"d":4,"t":1860,"v":1e-8},

{"d":3,"t":1100,"v":1.1e-6},{"d":3,"t":1105,"v":1e-8},{"d":3,"t":1110,"v":1.65e-6},{"d":3,"t":1115,"v":1e-8},{"d":3,"t":1120,"v":1.1e-6},{"d":3,"t":1125,"v":5.5e-7},{"d":3,"t":1130,"v":1e-8},{"d":3,"t":1135,"v":2.2e-6},{"d":3,"t":1140,"v":1e-8},{"d":3,"t":1145,"v":1.1e-6},{"d":3,"t":1150,"v":1e-8},{"d":3,"t":1155,"v":1.65e-6},{"d":3,"t":1160,"v":1.1e-6},{"d":3,"t":1165,"v":1e-8},{"d":3,"t":1170,"v":5.5e-7},{"d":3,"t":1175,"v":2.2e-6},
{"d":3,"t":1178,"v":1.26e-5},{"d":3,"t":1180,"v":3.6e-4},{"d":3,"t":1183,"v":4.7e-3},{"d":3,"t":1185,"v":8.3e-3},{"d":3,"t":1187,"v":7.6e-3},{"d":3,"t":1189,"v":8.0e-3},{"d":3,"t":1191,"v":6.0e-3},{"d":3,"t":1193,"v":4.2e-3},{"d":3,"t":1195,"v":3.1e-3},{"d":3,"t":1197,"v":2.2e-3},{"d":3,"t":1199,"v":1.5e-3},{"d":3,"t":1201,"v":1.1e-3},{"d":3,"t":1203,"v":8.0e-4},{"d":3,"t":1205,"v":6.2e-4},{"d":3,"t":1207,"v":4.8e-4},{"d":3,"t":1209,"v":4.0e-4},{"d":3,"t":1211,"v":3.4e-4},{"d":3,"t":1213,"v":3.0e-4},{"d":3,"t":1215,"v":2.9e-4},{"d":3,"t":1220,"v":3.3e-4},{"d":3,"t":1225,"v":2.8e-4},{"d":3,"t":1230,"v":2.5e-4},{"d":3,"t":1235,"v":2.3e-4},{"d":3,"t":1240,"v":2.0e-4},{"d":3,"t":1245,"v":1.75e-4},{"d":3,"t":1250,"v":1.6e-4},{"d":3,"t":1255,"v":1.35e-4},{"d":3,"t":1260,"v":1.2e-4},{"d":3,"t":1265,"v":1.05e-4},{"d":3,"t":1270,"v":9.0e-5},{"d":3,"t":1275,"v":8.0e-5},{"d":3,"t":1280,"v":7.0e-5},{"d":3,"t":1285,"v":6.2e-5},{"d":3,"t":1290,"v":5.5e-5},{"d":3,"t":1295,"v":4.8e-5},{"d":3,"t":1300,"v":4.3e-5},{"d":3,"t":1305,"v":3.8e-5},{"d":3,"t":1310,"v":3.4e-5},{"d":3,"t":1315,"v":3.1e-5},{"d":3,"t":1320,"v":2.8e-5},{"d":3,"t":1325,"v":2.7e-5},{"d":3,"t":1330,"v":2.4e-5},{"d":3,"t":1335,"v":2.3e-5},{"d":3,"t":1340,"v":2.1e-5},{"d":3,"t":1345,"v":2.0e-5},{"d":3,"t":1350,"v":1.85e-5},{"d":3,"t":1355,"v":1.75e-5},{"d":3,"t":1360,"v":1.6e-5},{"d":3,"t":1365,"v":1.65e-5},{"d":3,"t":1370,"v":1.5e-5},{"d":3,"t":1375,"v":1.4e-5},{"d":3,"t":1380,"v":1.35e-5},{"d":3,"t":1385,"v":1.25e-5},{"d":3,"t":1390,"v":1.3e-5},{"d":3,"t":1395,"v":1.15e-5},{"d":3,"t":1400,"v":1.1e-5},{"d":3,"t":1405,"v":1.05e-5},{"d":3,"t":1410,"v":1.0e-5},{"d":3,"t":1415,"v":9.0e-6},{"d":3,"t":1420,"v":9.4e-6},{"d":3,"t":1425,"v":8.2e-6},{"d":3,"t":1430,"v":7.8e-6},{"d":3,"t":1435,"v":7.4e-6},{"d":3,"t":1440,"v":7.8e-6},{"d":3,"t":1445,"v":6.8e-6},{"d":3,"t":1450,"v":6.5e-6},{"d":3,"t":1455,"v":6.9e-6},{"d":3,"t":1460,"v":6.0e-6},{"d":3,"t":1465,"v":5.6e-6},{"d":3,"t":1470,"v":6.2e-6},{"d":3,"t":1475,"v":5.3e-6},{"d":3,"t":1480,"v":5.0e-6},{"d":3,"t":1485,"v":5.5e-6},{"d":3,"t":1490,"v":4.7e-6},{"d":3,"t":1495,"v":4.4e-6},{"d":3,"t":1500,"v":4.9e-6},{"d":3,"t":1505,"v":4.2e-6},{"d":3,"t":1510,"v":4.5e-6},{"d":3,"t":1515,"v":3.9e-6},{"d":3,"t":1520,"v":4.1e-6},{"d":3,"t":1525,"v":3.6e-6},{"d":3,"t":1530,"v":3.9e-6},{"d":3,"t":1535,"v":3.3e-6},{"d":3,"t":1540,"v":3.7e-6},{"d":3,"t":1545,"v":3.1e-6},{"d":3,"t":1550,"v":3.5e-6},{"d":3,"t":1555,"v":2.9e-6},{"d":3,"t":1560,"v":3.4e-6},{"d":3,"t":1565,"v":2.6e-6},{"d":3,"t":1570,"v":3.3e-6},{"d":3,"t":1575,"v":2.8e-6},{"d":3,"t":1580,"v":2.4e-6},{"d":3,"t":1585,"v":1e-8},{"d":3,"t":1590,"v":2.9e-6},{"d":3,"t":1595,"v":2.2e-6},{"d":3,"t":1600,"v":1e-8},{"d":3,"t":1605,"v":2.7e-6},{"d":3,"t":1610,"v":1e-8},{"d":3,"t":1615,"v":2.6e-6},{"d":3,"t":1620,"v":1.65e-6},{"d":3,"t":1625,"v":1e-8},{"d":3,"t":1630,"v":2.4e-6},{"d":3,"t":1635,"v":2.75e-6},{"d":3,"t":1640,"v":1e-8},{"d":3,"t":1645,"v":2.2e-6},{"d":3,"t":1650,"v":1e-8},{"d":3,"t":1655,"v":2.5e-6},{"d":3,"t":1660,"v":1.1e-6},{"d":3,"t":1665,"v":1e-8},{"d":3,"t":1670,"v":2.2e-6},{"d":3,"t":1675,"v":1e-8},{"d":3,"t":1680,"v":1.65e-6},{"d":3,"t":1685,"v":2.2e-6},{"d":3,"t":1690,"v":1e-8},{"d":3,"t":1695,"v":1.65e-6},{"d":3,"t":1700,"v":1e-8},{"d":3,"t":1705,"v":1e-8}
],
"labels": [
{"d":3,"t":1194,"v":0.0316,"text":"DOM3"},{"d":3,"t":1194,"v":0.0142,"text":"76 m"},
{"d":4,"t":1367,"v":0.0106,"text":"DOM4"},{"d":4,"t":1367,"v":0.00485,"text":"112 m"},
{"d":5,"t":1539,"v":0.0037,"text":"DOM5"},{"d":5,"t":1539,"v":0.00165,"text":"150 m"},
{"d":6,"t":1713,"v":0.00118,"text":"DOM6"},{"d":6,"t":1713,"v":0.000535,"text":"187 m"},
{"d":7,"t":1882,"v":0.000367,"text":"DOM7"},{"d":7,"t":1882,"v":0.000166,"text":"224 m"},
{"d":8,"t":2052,"v":0.000156,"text":"DOM8"},{"d":8,"t":2052,"v":0.000069,"text":"262 m"},
{"d":9,"t":2229,"v":0.000054,"text":"DOM9"},{"d":9,"t":2229,"v":0.0000248,"text":"299 m"},
{"d":10,"t":2395,"v":0.000027,"text":"DOM10"},{"d":10,"t":2395,"v":0.0000122,"text":"336 m"},
{"d":11,"t":2563,"v":0.0000129,"text":"DOM11"},{"d":11,"t":2563,"v":0.0000059,"text":"373 m"}
],
"note": [{"t":2000,"v":0.01186,"text":"KM3NeT preliminary"}]
},
"layer": [
{
 "data": {"name": "hist"},
 "mark": {"type": "line", "interpolate": "step-after", "strokeWidth": 2, "clip": true},
 "encoding": {
  "x": {"field": "t", "type": "quantitative",
   "scale": {"domain": [1100, 2707], "nice": false, "zero": false},
   "axis": {"values": [1100,1150,1200,1250,1300,1350,1400,1450,1500,1550,1600,1650,1700,1750,1800,1850,1900,1950,2000,2050,2100,2150,2200,2250,2300,2350,2400,2450,2500,2550,2600,2650,2700],
    "format": "d", "labelExpr": "datum.value % 200 === 0 ? datum.label : ''",
    "tickSize": {"condition": {"test": "datum.value % 200 === 0", "value": -15}, "value": -8},
    "labelPadding": 23, "labelOverlap": false, "labelFlush": false,
    "title": "Calibrated hit time [ns] modulo pulse period", "titleFontSize": 34, "titleBaseline": "alphabetic", "titleY": 67}},
  "y": {"field": "v", "type": "quantitative",
   "scale": {"type": "log", "domain": [3e-7, 0.1], "nice": false},
   "axis": {"values": [3e-7,4e-7,5e-7,6e-7,7e-7,8e-7,9e-7,1e-6,2e-6,3e-6,4e-6,5e-6,6e-6,7e-6,8e-6,9e-6,1e-5,2e-5,3e-5,4e-5,5e-5,6e-5,7e-5,8e-5,9e-5,1e-4,2e-4,3e-4,4e-4,5e-4,6e-4,7e-4,8e-4,9e-4,0.001,0.002,0.003,0.004,0.005,0.006,0.007,0.008,0.009,0.01,0.02,0.03,0.04,0.05,0.06,0.07,0.08,0.09,0.1],
    "labelExpr": "abs(log(datum.value)/LN10 - round(log(datum.value)/LN10)) < 0.001 ? '10⁻' + ['⁰','¹','²','³','⁴','⁵','⁶','⁷'][-round(log(datum.value)/LN10)] : ''",
    "tickSize": {"condition": {"test": "abs(log(datum.value)/LN10 - round(log(datum.value)/LN10)) < 0.001", "value": -22}, "value": -12},
    "labelPadding": 32, "labelOverlap": false, "labelOffset": 3,
    "title": "# Hits / Pulse", "titleBaseline": "alphabetic", "titleX": -82, "titleY": 286}},
  "color": {"field": "d", "type": "nominal",
   "scale": {"domain": [3,4,5,6,7,8,9,10,11], "range": ["#000000","#cc00ff","#ff0000","#0000ff","#000000","#cc00ff","#ff0000","#0000ff","#000000"]},
   "legend": null}
 }
},
{
 "data": {"name": "labels"},
 "mark": {"type": "text", "align": "left", "baseline": "middle", "font": "Liberation Sans", "fontWeight": "bold"},
 "encoding": {
  "x": {"field": "t", "type": "quantitative"},
  "y": {"field": "v", "type": "quantitative"},
  "text": {"field": "text"},
  "color": {"field": "d", "type": "nominal", "legend": null},
  "size": {"condition": {"test": "datum.d === 10", "value": 13}, "value": 14}
 }
},
{
 "data": {"name": "note"},
 "mark": {"type": "text", "align": "center", "baseline": "alphabetic", "font": "Lato", "fontSize": 38, "color": "black"},
 "encoding": {
  "x": {"field": "t", "type": "quantitative"},
  "y": {"field": "v", "type": "quantitative"},
  "text": {"field": "text"}
 }
}
]
}
